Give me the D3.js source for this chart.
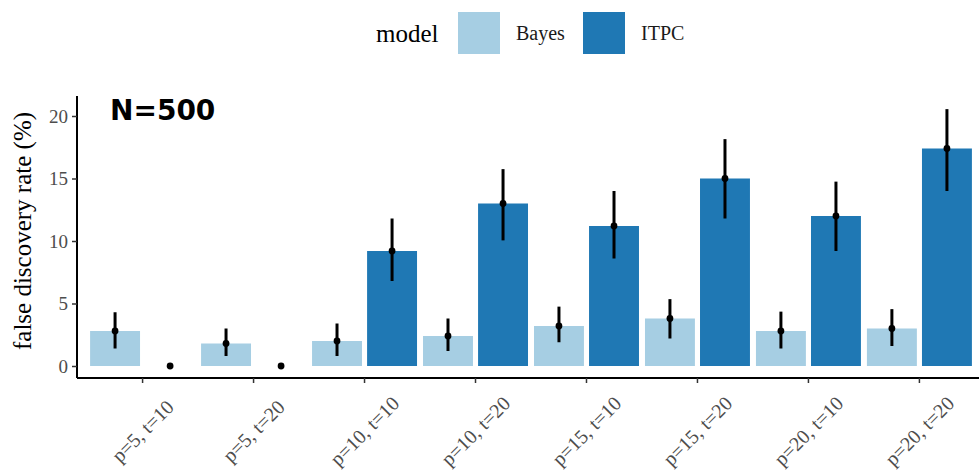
<!DOCTYPE html>
<html>
<head>
<meta charset="utf-8">
<script src="https://cdn.jsdelivr.net/npm/d3@7.9.0/dist/d3.min.js"></script>
<style>
  body { margin: 0; background: #fff; }
  svg { display: block; }
  text { font-family: "Liberation Serif", "DejaVu Serif", serif; }
</style>
</head>
<body>
<svg id="chart" width="979" height="471"></svg>
<script>
// data
const categories = ["p=5, t=10", "p=5, t=20", "p=10, t=10", "p=10, t=20",
                    "p=15, t=10", "p=15, t=20", "p=20, t=10", "p=20, t=20"];
const models = ["Bayes", "ITPC"];
const bayesFdr = [2.8, 1.8, 2.0, 2.4, 3.2, 3.8, 2.8, 3.0];
const bayesLo  = [1.4, 0.8, 0.8, 1.2, 1.9, 2.2, 1.4, 1.6];
const bayesHi  = [4.3, 3.0, 3.4, 3.8, 4.75, 5.35, 4.35, 4.55];
const itpcFdr  = [0, 0, 9.2, 13.0, 11.2, 15.0, 12.0, 17.4];
const itpcLo   = [0, 0, 6.8, 10.05, 8.6, 11.8, 9.2, 14.0];
const itpcHi   = [0, 0, 11.8, 15.75, 14.0, 18.15, 14.75, 20.55];
const yTicks = [0, 5, 10, 15, 20];

const colors = d3.scaleOrdinal().domain(models).range(["#a6cee3", "#1f78b4"]);

const rows = [];
categories.forEach((c, i) => {
    rows.push({ cat: c, model: "Bayes", v: bayesFdr[i], lo: bayesLo[i], hi: bayesHi[i] });
    rows.push({ cat: c, model: "ITPC", v: itpcFdr[i], lo: itpcLo[i], hi: itpcHi[i] });
});

const svg = d3.select('#chart');

const panelLeft = 77, panelBottom = 378, panelTop = 96;

let x = d3.scaleBand().domain(categories).range([76, 986]).paddingInner(0).paddingOuter(0.1);
let y = d3.scaleLinear().domain([-0.96, 21.6]).range([panelBottom, panelTop]);

const step = x.step();
const barW = 0.45 * step;
const offset = 0.248 * step;
const center = (c) => x(c) + x.bandwidth() / 2;
const xPos = (d) => center(d.cat) + (d.model === "Bayes" ? -offset : offset);

// bars
svg.append('g').selectAll('rect')
    .data(rows.filter(d => d.v > 0))
    .join('rect')
    .attr('x', d => xPos(d) - barW / 2)
    .attr('width', barW)
    .attr('y', d => y(d.v))
    .attr('height', d => y(0) - y(d.v))
    .attr('fill', d => colors(d.model));

// error bars
svg.append('g').selectAll('line')
    .data(rows.filter(d => d.hi > d.lo))
    .join('line')
    .attr('x1', xPos).attr('x2', xPos)
    .attr('y1', d => y(d.lo)).attr('y2', d => y(d.hi))
    .attr('stroke', '#000').attr('stroke-width', 3);

svg.append('g').selectAll('circle')
    .data(rows)
    .join('circle')
    .attr('cx', xPos)
    .attr('cy', d => y(d.v))
    .attr('r', 3.4)
    .attr('fill', '#000');

// y axis
const yAxis = svg.append('g').attr('transform', `translate(${panelLeft},0)`)
    .call(d3.axisLeft(y).tickValues(yTicks).tickSize(5).tickPadding(4));
yAxis.select('.domain').attr('stroke', '#000').attr('stroke-width', 2)
    .attr('d', `M0,${panelTop}V${panelBottom}`);
yAxis.selectAll('.tick line').attr('stroke', '#333').attr('stroke-width', 1.5);
yAxis.selectAll('.tick text')
    .attr('fill', '#4d4d4d')
    .style('font-family', '"Liberation Serif", serif')
    .style('font-size', '19px');

// x axis
const xAxis = svg.append('g').attr('transform', `translate(0,${panelBottom})`)
    .call(d3.axisBottom(x).tickSize(5).tickFormat(''));
xAxis.select('.domain').attr('stroke', '#000').attr('stroke-width', 2)
    .attr('d', `M${panelLeft},0H979`);
xAxis.selectAll('.tick line').attr('stroke', '#333').attr('stroke-width', 1.5);

svg.append('g').selectAll('text')
    .data(categories)
    .join('text')
    .attr('transform', d => `translate(${center(d)},431) rotate(-45)`)
    .attr('text-anchor', 'middle')
    .attr('dominant-baseline', 'central')
    .attr('fill', '#4d4d4d')
    .style('font-size', '20px')
    .text(d => d);

// y title
svg.append('text')
    .attr('transform', 'translate(31,231) rotate(-90)')
    .attr('text-anchor', 'middle')
    .style('font-size', '25px')
    .attr('fill', '#000')
    .text('false discovery rate (%)');

// panel label
svg.append('text')
    .attr('x', 110)
    .attr('y', 120)
    .style('font-family', '"DejaVu Sans", sans-serif')
    .style('font-weight', 'bold')
    .style('font-size', '28px')
    .attr('fill', '#000')
    .text('N=500');

// legend
const legend = svg.append('g');
legend.append('text')
    .attr('x', 376).attr('y', 42)
    .style('font-size', '25px')
    .attr('fill', '#000')
    .text('model');

const keyX = [458, 583];
models.forEach((m, i) => {
    legend.append('rect')
        .attr('x', keyX[i]).attr('y', 12)
        .attr('width', 42).attr('height', 42)
        .attr('fill', colors(m));
    legend.append('text')
        .attr('x', keyX[i] + 58).attr('y', 40)
        .style('font-size', '20px')
        .attr('fill', '#1a1a1a')
        .text(m);
});
</script>
</body>
</html>
